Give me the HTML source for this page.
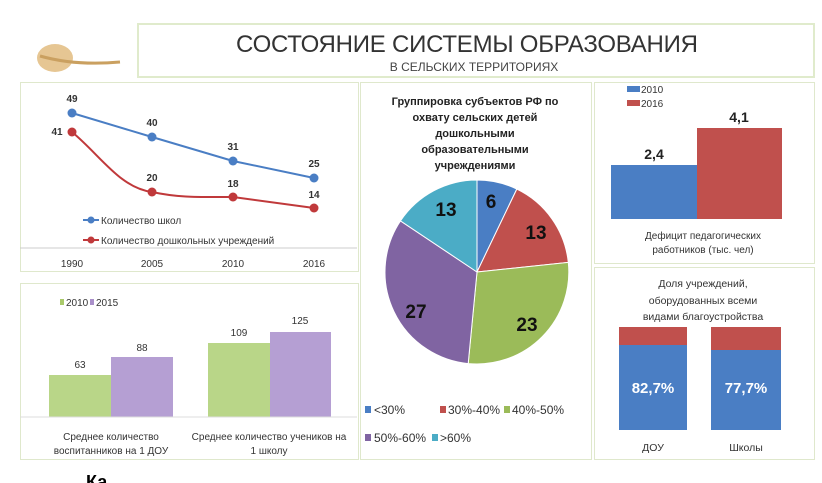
<!DOCTYPE html><html><head><meta charset="utf-8"><style>
body{margin:0;width:822px;height:483px;background:#fff;overflow:hidden;position:relative;font-family:"Liberation Sans","DejaVu Sans",sans-serif}
.p{position:absolute;border:1px solid #dfe8cc;background:#fff}
svg{position:absolute;left:0;top:0}
</style></head><body>
<div class="p" style="left:137px;top:23px;width:674px;height:51px;border:2px solid #e0ebcc"></div>
<div class="p" style="left:20px;top:82px;width:337px;height:188px"></div>
<div class="p" style="left:20px;top:283px;width:337px;height:175px"></div>
<div class="p" style="left:360px;top:82px;width:230px;height:376px"></div>
<div class="p" style="left:594px;top:82px;width:219px;height:180px"></div>
<div class="p" style="left:594px;top:267px;width:219px;height:191px"></div>
<svg width="822" height="483" font-family="Liberation Sans, DejaVu Sans, sans-serif">
<ellipse cx="55" cy="58" rx="18" ry="14" fill="#e0b878" opacity=".8"/>
<path d="M40 56 Q75 66 120 62" stroke="#caa060" stroke-width="3" fill="none"/>
<text x="467" y="52" font-size="24" text-anchor="middle" fill="#333" textLength="462">СОСТОЯНИЕ СИСТЕМЫ ОБРАЗОВАНИЯ</text>
<text x="474" y="71" font-size="12" text-anchor="middle" fill="#444">В СЕЛЬСКИХ ТЕРРИТОРИЯХ</text>
<!-- line chart -->
<line x1="20" y1="248" x2="357" y2="248" stroke="#ccc"/>
<g font-size="10" fill="#333" text-anchor="middle"><text x="72" y="267">1990</text><text x="152" y="267">2005</text><text x="233" y="267">2010</text><text x="314" y="267">2016</text></g>
<polyline points="72,113 152,137 233,161 314,178" fill="none" stroke="#4a7ec4" stroke-width="2"/>
<path d="M72,132 C100,155 120,188 152,192 C180,198 200,197 233,197 L314,208" fill="none" stroke="#c0393b" stroke-width="2"/>
<g fill="#4a7ec4"><circle cx="72" cy="113" r="4.5"/><circle cx="152" cy="137" r="4.5"/><circle cx="233" cy="161" r="4.5"/><circle cx="314" cy="178" r="4.5"/></g>
<g fill="#c0393b"><circle cx="72" cy="132" r="4.5"/><circle cx="152" cy="192" r="4.5"/><circle cx="233" cy="197" r="4.5"/><circle cx="314" cy="208" r="4.5"/></g>
<g font-size="10" font-weight="bold" fill="#333" text-anchor="middle"><text x="72" y="102">49</text><text x="57" y="135">41</text><text x="152" y="126">40</text><text x="152" y="181">20</text><text x="233" y="150">31</text><text x="233" y="187">18</text><text x="314" y="167">25</text><text x="314" y="198">14</text></g>
<line x1="83" y1="220" x2="99" y2="220" stroke="#4a7ec4" stroke-width="2"/><circle cx="91" cy="220" r="3.5" fill="#4a7ec4"/>
<line x1="83" y1="240" x2="99" y2="240" stroke="#c0393b" stroke-width="2"/><circle cx="91" cy="240" r="3.5" fill="#c0393b"/>
<g font-size="10" fill="#333"><text x="101" y="224">Количество школ</text><text x="101" y="244">Количество дошкольных учреждений</text></g>
<!-- bottom-left bars -->
<rect x="60" y="299" width="4" height="6" fill="#a9c96a"/><rect x="90" y="299" width="4" height="6" fill="#a98fc9"/>
<g font-size="10" fill="#333"><text x="66" y="306">2010</text><text x="96" y="306">2015</text></g>
<rect x="49" y="375" width="62" height="42" fill="#b9d688"/><rect x="111" y="357" width="62" height="60" fill="#b59fd3"/>
<rect x="208" y="343" width="62" height="74" fill="#b9d688"/><rect x="270" y="332" width="61" height="85" fill="#b59fd3"/>
<line x1="20" y1="417" x2="357" y2="417" stroke="#ddd"/>
<g font-size="10" fill="#333" text-anchor="middle"><text x="80" y="368">63</text><text x="142" y="351">88</text><text x="239" y="336">109</text><text x="300" y="324">125</text>
<text x="111" y="440">Среднее количество</text><text x="111" y="454">воспитанников на 1 ДОУ</text><text x="269" y="440">Среднее количество учеников на</text><text x="269" y="454">1 школу</text></g>
<!-- pie -->
<g font-size="11" font-weight="bold" fill="#222" text-anchor="middle"><text x="475" y="105">Группировка субъектов РФ по</text><text x="475" y="121">охвату сельских детей</text><text x="475" y="137">дошкольными</text><text x="475" y="153">образовательными</text><text x="475" y="169">учреждениями</text></g>
<g stroke="#fff" stroke-width="1">
<path d="M477,272 L477,180 A92,92 0 0 1 516.8,189.1Z" fill="#4a7ec4"/>
<path d="M477,272 L516.8,189.1 A92,92 0 0 1 568.3,262.4Z" fill="#c0504d"/>
<path d="M477,272 L568.3,262.4 A92,92 0 0 1 468.2,363.6Z" fill="#9bbb59"/>
<path d="M477,272 L468.2,363.6 A92,92 0 0 1 400.5,220.9Z" fill="#8064a2"/>
<path d="M477,272 L400.5,220.9 A92,92 0 0 1 477,180Z" fill="#4bacc6"/>
</g>
<g font-size="19" font-weight="bold" fill="#111" text-anchor="middle"><text x="491" y="208">6</text><text x="536" y="239">13</text><text x="527" y="331">23</text><text x="416" y="318">27</text><text x="446" y="216">13</text></g>
<g font-size="12" fill="#333"><rect x="365" y="406" width="6" height="7" fill="#4a7ec4"/><text x="374" y="414">&lt;30%</text>
<rect x="440" y="406" width="6" height="7" fill="#c0504d"/><text x="448" y="414">30%-40%</text>
<rect x="504" y="406" width="6" height="7" fill="#9bbb59"/><text x="512" y="414">40%-50%</text>
<rect x="365" y="434" width="6" height="7" fill="#8064a2"/><text x="374" y="442">50%-60%</text>
<rect x="432" y="434" width="6" height="7" fill="#4bacc6"/><text x="440" y="442">&gt;60%</text></g>
<!-- right top -->
<rect x="627" y="86" width="13" height="6" fill="#4a7ec4"/><rect x="627" y="100" width="13" height="6" fill="#c0504d"/>
<g font-size="10" fill="#333"><text x="641" y="93">2010</text><text x="641" y="107">2016</text></g>
<rect x="611" y="165" width="86" height="54" fill="#4a7ec4"/><rect x="697" y="128" width="85" height="91" fill="#c0504d"/>
<g font-size="14" font-weight="bold" fill="#222" text-anchor="middle"><text x="654" y="159">2,4</text><text x="739" y="122">4,1</text></g>
<g font-size="10" fill="#333" text-anchor="middle"><text x="703" y="239">Дефицит педагогических</text><text x="703" y="253">работников (тыс. чел)</text></g>
<!-- right bottom -->
<g font-size="10.5" fill="#333" text-anchor="middle"><text x="703" y="287">Доля учреждений,</text><text x="703" y="304">оборудованных всеми</text><text x="703" y="320">видами благоустройства</text></g>
<rect x="619" y="327" width="68" height="18" fill="#c0504d"/><rect x="619" y="345" width="68" height="85" fill="#4a7ec4"/>
<rect x="711" y="327" width="70" height="23" fill="#c0504d"/><rect x="711" y="350" width="70" height="80" fill="#4a7ec4"/>
<g font-size="15" font-weight="bold" fill="#fff" text-anchor="middle"><text x="653" y="393">82,7%</text><text x="746" y="393">77,7%</text></g>
<g font-size="10.5" fill="#333" text-anchor="middle"><text x="653" y="451">ДОУ</text><text x="746" y="451">Школы</text></g>
<text x="86" y="488" font-size="18" font-weight="bold" fill="#000">Ка</text>
</svg>
</body></html>
